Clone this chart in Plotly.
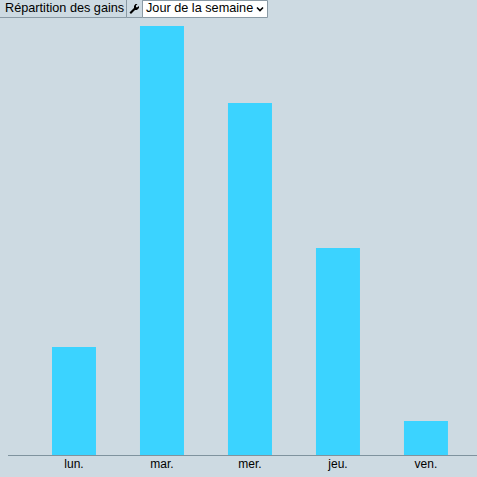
import plotly.graph_objects as go

categories = ["lun.", "mar.", "mer.", "jeu.", "ven."]
values = [108, 429, 352, 207, 34]

W = H = 477
BG = "#cddae2"
BAR = "#3bd3ff"
AXIS = "#7f939e"
BORDER = "#8a9aa5"
FONT = "Liberation Sans, Arial, sans-serif"


def px(x):
    return x / W


def py(y):
    return 1 - y / H


def box(x0, x1, y0, y1, fill):
    return dict(type="rect", xref="paper", yref="paper", x0=px(x0), x1=px(x1), y0=py(y1), y1=py(y0),
                fillcolor=fill, line=dict(color=BORDER, width=1), layer="above")


def poly(points, fill=None, line=None):
    path = "M" + " L".join(f"{px(a):.5f},{py(b):.5f}" for a, b in points)
    if fill:
        path += " Z"
    return dict(type="path", xref="paper", yref="paper", path=path, fillcolor=fill,
                line=dict(color=line or "rgba(0,0,0,0)", width=1.6 if line else 0), layer="above")


wrench = [(129.5, 12.5), (131, 14), (135, 10), (137, 10), (139, 8), (139, 6), (137, 7.5), (136, 7),
          (136, 5.5), (137.5, 4), (135.5, 4), (134, 6), (134, 8)]
chevron = [(257, 7.5), (260, 10.5), (263, 7.5)]

fig = go.Figure(go.Bar(x=categories, y=values, marker=dict(color=BAR, line=dict(width=0)), width=0.5))

fig.update_layout(
    width=W, height=H, autosize=False, margin=dict(l=0, r=0, t=0, b=0),
    paper_bgcolor=BG, plot_bgcolor=BG, showlegend=False, bargap=0.5,
    font=dict(family=FONT, size=12, color="#000000"),
    xaxis=dict(domain=[8 / W, 1], range=[-0.75, 4.58], showgrid=False, zeroline=False, ticks="",
               showline=False, tickfont=dict(size=12, color="#000")),
    yaxis=dict(domain=[22 / H, 1], range=[0, 455], visible=False),
    shapes=[
        dict(type="line", xref="paper", yref="paper", x0=px(8), x1=1, y0=py(455.5), y1=py(455.5),
             line=dict(color=AXIS, width=1), layer="above"),
        box(-1, 126.5, -1, 17.5, BG),
        box(126.5, 142.5, -1, 17.5, BG),
        box(142.5, 267.5, 0.5, 17.5, "#ffffff"),
        poly(wrench, fill="#000000"),
        poly(chevron, line="#000000"),
    ],
    annotations=[
        dict(text="Répartition des gains", xref="paper", yref="paper", x=px(3), y=py(8), xanchor="left",
             yanchor="middle", showarrow=False, font=dict(size=12.7, family=FONT, color="#000")),
        dict(text="Jour de la semaine", xref="paper", yref="paper", x=px(144), y=py(8), xanchor="left",
             yanchor="middle", showarrow=False, font=dict(size=12.7, family=FONT, color="#000")),
    ],
)

fig.write_html(
    "out.html",
    config={"displayModeBar": False},
    post_script="document.documentElement.style.overflow='hidden';document.body.style.margin='0';",
)
